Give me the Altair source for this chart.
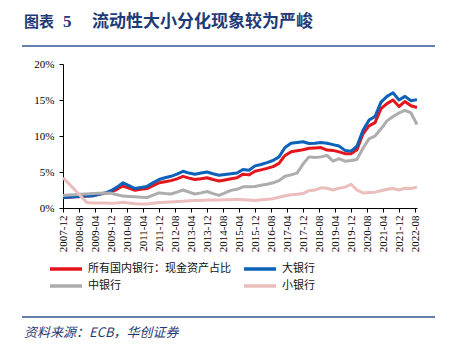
import altair as alt
import pandas as pd

dates = [
    "2007-12", "2008-03", "2008-06", "2008-09", "2008-12", "2009-03", "2009-06", "2009-09",
    "2009-12", "2010-03", "2010-06", "2010-09", "2010-12", "2011-03", "2011-06", "2011-09",
    "2011-12", "2012-03", "2012-06", "2012-09", "2012-12", "2013-03", "2013-06", "2013-09",
    "2013-12", "2014-03", "2014-06", "2014-09", "2014-12", "2015-03", "2015-06", "2015-09",
    "2015-12", "2016-03", "2016-06", "2016-09", "2016-12", "2017-03", "2017-06", "2017-09",
    "2017-12", "2018-03", "2018-06", "2018-09", "2018-12", "2019-03", "2019-06", "2019-09",
    "2019-12", "2020-03", "2020-06", "2020-09", "2020-12", "2021-03", "2021-06", "2021-09",
    "2021-12", "2022-03", "2022-06", "2022-09",
]

all_banks = [
    1.45, 1.5, 1.55, 1.6, 1.65, 1.7, 1.9, 2.05, 2.2, 2.6, 3.05, 2.75, 2.45, 2.6, 2.7, 3.1,
    3.5, 3.65, 3.8, 4.05, 4.4, 4.15, 3.95, 4.05, 4.2, 3.95, 3.75, 3.9, 4.05, 4.2, 4.7, 4.6,
    5.1, 5.3, 5.5, 5.75, 6.2, 7.3, 7.8, 7.95, 8.1, 8.3, 8.35, 8.4, 8.05, 8.0, 7.8, 7.55,
    7.55, 8.1, 10.3, 11.4, 11.85, 13.8, 14.5, 15.0, 14.1, 14.8, 14.2, 13.95,
]
large = [
    1.45, 1.5, 1.55, 1.6, 1.65, 1.7, 1.9, 2.1, 2.4, 2.9, 3.5, 3.1, 2.7, 2.85, 3.0, 3.5,
    3.95, 4.2, 4.4, 4.7, 5.1, 4.85, 4.7, 4.85, 5.0, 4.75, 4.55, 4.65, 4.75, 4.85, 5.35, 5.25,
    5.85, 6.05, 6.3, 6.6, 7.1, 8.4, 9.0, 9.1, 9.2, 8.95, 9.0, 9.1, 9.0, 8.8, 8.6, 8.0,
    7.9, 8.6, 10.8, 12.2, 12.7, 14.7, 15.5, 16.0, 15.0, 15.5, 14.9, 15.05,
]
medium = [
    1.75, 1.8, 1.85, 1.9, 1.95, 2.0, 2.05, 2.1, 2.05, 1.85, 1.65, 1.6, 1.55, 1.5, 1.45, 1.8,
    2.1, 2.0, 1.95, 2.2, 2.5, 2.2, 1.95, 2.1, 2.3, 2.0, 1.75, 2.1, 2.45, 2.6, 2.95, 2.95,
    3.0, 3.15, 3.3, 3.5, 3.8, 4.4, 4.6, 4.85, 6.1, 7.1, 7.0, 7.1, 7.3, 6.5, 6.85, 6.5,
    6.6, 6.75, 8.3, 9.6, 10.0, 11.0, 12.1, 12.7, 13.2, 13.55, 13.2, 11.6,
]
small = [
    4.2, 3.35, 2.5, 1.6, 0.75, 0.7, 0.7, 0.7, 0.65, 0.7, 0.8, 0.7, 0.6, 0.55, 0.55, 0.65,
    0.75, 0.8, 0.85, 0.9, 0.95, 1.0, 1.05, 1.05, 1.1, 1.1, 1.1, 1.15, 1.15, 1.2, 1.15, 1.1,
    1.05, 1.15, 1.2, 1.3, 1.5, 1.7, 1.85, 1.9, 2.0, 2.4, 2.5, 2.8, 2.75, 2.5, 2.75, 2.9,
    3.3, 2.5, 2.1, 2.15, 2.2, 2.4, 2.6, 2.7, 2.5, 2.75, 2.7, 2.9,
]

series_names = ["所有国内银行：现金资产占比", "大银行", "中银行", "小银行"]
series_colors = ["#E5151D", "#0B62B9", "#ADADAD", "#EBBDBD"]

x_tick_labels = [
    "2007-12", "2008-08", "2009-04", "2009-12", "2010-08", "2011-04", "2011-12", "2012-08",
    "2013-04", "2013-12", "2014-08", "2015-04", "2015-12", "2016-08", "2017-04", "2017-12",
    "2018-08", "2019-04", "2019-12", "2020-08", "2021-04", "2021-12", "2022-08",
]
y_ticks = [0, 5, 10, 15, 20]

title_label = "图表"
title_num = "5"
title_right = "流动性大小分化现象较为严峻"
source_text = "资料来源：ECB，华创证券"


def month_index(s):
    y, m = s.split("-")
    return (int(y) - 2007) * 12 + int(m) - 12


rows = []
for name, vals in zip(series_names, [all_banks, large, medium, small]):
    for d, v in zip(dates, vals):
        rows.append({"date": d, "m": month_index(d), "v": v, "s": name})
df = pd.DataFrame(rows)

tick_vals = [month_index(t) for t in x_tick_labels]
label_map = "[" + ",".join("'" + t + "'" for t in x_tick_labels) + "]"

NAVY = "#1F3A78"
SERIF = "Liberation Serif"
CJK = "Noto Sans CJK SC"

lines = alt.Chart(df).mark_line(strokeWidth=3, strokeJoin="round").encode(
    x=alt.X(
        "m:Q",
        scale=alt.Scale(domain=[0, 177], nice=False, zero=False),
        axis=alt.Axis(
            values=tick_vals,
            labelExpr=label_map + "[round(datum.value/8)]",
            labelAngle=-90,
            labelFont=SERIF,
            labelFontSize=11,
            labelColor="#000000",
            labelPadding=3,
            tickSize=4,
            tickColor="#000000",
            domainColor="#000000",
            grid=False,
            title=None,
        ),
    ),
    y=alt.Y(
        "v:Q",
        scale=alt.Scale(domain=[0, 20], nice=False),
        axis=alt.Axis(
            values=y_ticks,
            labelExpr="datum.value + '%'",
            labelFont=SERIF,
            labelFontSize=11,
            labelColor="#000000",
            labelPadding=5,
            tickSize=4,
            tickColor="#000000",
            domainColor="#000000",
            grid=False,
            title=None,
        ),
    ),
    color=alt.Color(
        "s:N",
        scale=alt.Scale(domain=series_names, range=series_colors),
        sort=series_names,
        legend=alt.Legend(
            title=None,
            orient="none",
            direction="horizontal",
            legendX=-7,
            legendY=195,
            columns=2,
            columnPadding=6,
            rowPadding=0,
            padding=0,
            symbolType="M-2,0H2",
            symbolSize=256,
            symbolStrokeWidth=3.5,
            labelFont=CJK,
            labelFontSize=11,
            labelColor="#111111",
            labelOffset=12,
        ),
    ),
    detail="s:N",
)

one = alt.Data(values=[{"a": 1}])

t1 = alt.Chart(one).mark_text(
    text=title_label, font=CJK, fontSize=15, fontWeight="bold", color=NAVY,
    align="left", baseline="middle",
).encode(x=alt.value(-39), y=alt.value(-42))
t1b = alt.Chart(one).mark_text(
    text=title_num, font=SERIF, fontSize=17, fontWeight="bold", color=NAVY,
    align="left", baseline="middle",
).encode(x=alt.value(0), y=alt.value(-42))
t2 = alt.Chart(one).mark_text(
    text=title_right, font=CJK, fontSize=17, fontWeight="bold", color=NAVY,
    align="left", baseline="middle",
).encode(x=alt.value(29), y=alt.value(-42))
rule_top = alt.Chart(one).mark_rule(color="#2E5596", strokeWidth=1.5).encode(
    x=alt.value(-41), x2=alt.value(372), y=alt.value(-18)
)
rule_bot = alt.Chart(one).mark_rule(color="#2E5596", strokeWidth=1.5).encode(
    x=alt.value(-41), x2=alt.value(372), y=alt.value(253)
)
src = alt.Chart(one).mark_text(
    text=source_text, font=CJK, fontSize=13, fontStyle="italic", color=NAVY,
    align="left", baseline="middle",
).encode(x=alt.value(-39), y=alt.value(269))

chart = alt.layer(lines, t1, t1b, t2, rule_top, rule_bot, src).properties(
    width=354,
    height=144,
    padding={"left": 63, "top": 64, "right": 34, "bottom": 140},
    autosize=alt.AutoSizeParams(type="none"),
    background="#FFFFFF",
).configure_view(stroke=None)

chart.save("out.html", embed_options={"renderer": "svg", "actions": False})
